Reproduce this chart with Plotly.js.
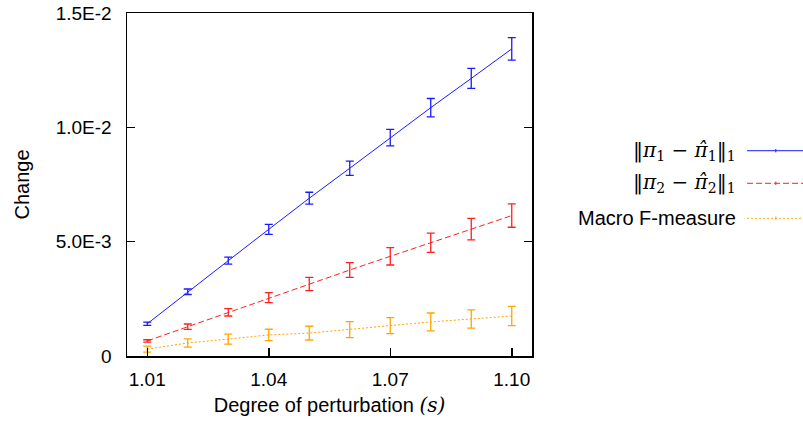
<!DOCTYPE html>
<html>
<head>
<meta charset="utf-8">
<script src="https://cdn.plot.ly/plotly-3.0.1.min.js"></script>
<style>html,body{margin:0;padding:0;background:#fff;}#chart{width:803px;height:423px;}</style>
</head>
<body>
<div id="chart"></div>
<script>
const perturbation = [1.01, 1.02, 1.03, 1.04, 1.05, 1.06, 1.07, 1.08, 1.09, 1.10];
const pi1Change = [0.00141, 0.00281, 0.00417, 0.00554, 0.00690, 0.00821, 0.00955, 0.01086, 0.01214, 0.01343];
const pi1Err = [0.00007, 0.00012, 0.00015, 0.00022, 0.00026, 0.00031, 0.00036, 0.00040, 0.00044, 0.00049];
const pi2Change = [0.00066, 0.00128, 0.00191, 0.00255, 0.00315, 0.00376, 0.00436, 0.00495, 0.00555, 0.00614];
const pi2Err = [0.00005, 0.00012, 0.00016, 0.00022, 0.00029, 0.00032, 0.00038, 0.00042, 0.00047, 0.00051];
const macroF = [0.00030, 0.00057, 0.00074, 0.00092, 0.00100, 0.00115, 0.00133, 0.00149, 0.00162, 0.00175];
const macroFErr = [0.00013, 0.00018, 0.00022, 0.00025, 0.00030, 0.00035, 0.00035, 0.00039, 0.00040, 0.00042];
const seriesNames = ['‖<i>π</i><sub>1</sub> − <i>π̂</i><sub>1</sub>‖<sub>1</sub>', '‖<i>π</i><sub>2</sub> − <i>π̂</i><sub>2</sub>‖<sub>1</sub>', 'Macro F-measure'];
const xTickVals = [1.01, 1.04, 1.07, 1.10];
const xTickText = ['1.01', '1.04', '1.07', '1.10'];
const yTickVals = [0, 0.005, 0.01, 0.015];
const yTickText = ['0', '5.0E-3', '1.0E-2', '1.5E-2'];

const colors = ['#1a1aff', '#ff2020', '#ffa500'];
const dashes = ['solid', '6px,3px', '2px,2px'];
const ys = [pi1Change, pi2Change, macroF];
const errs = [pi1Err, pi2Err, macroFErr];

const traces = ys.map((y, i) => ({
  x: perturbation, y: y, type: 'scatter', mode: 'lines',
  name: seriesNames[i], showlegend: false,
  line: {color: colors[i], width: 1, dash: dashes[i]},
  error_y: {type: 'data', array: errs[i], visible: true, color: colors[i], thickness: 1.3, width: 4}
}));

const legY = [0.5985, 0.5035, 0.4015];
const annotations = seriesNames.map((n, i) => ({
  xref: 'paper', yref: 'paper', x: 1.508, y: legY[i], xanchor: 'right', yanchor: 'middle',
  text: n, showarrow: false,
  font: i < 2 ? {family: 'DejaVu Serif', size: 20, color: '#000'} : {family: 'Liberation Sans, Arial', size: 20, color: '#000'}
}));
const shapes = [];
seriesNames.forEach((n, i) => {
  shapes.push({type: 'line', xref: 'paper', yref: 'paper', x0: 1.531, x1: 1.69, y0: legY[i], y1: legY[i],
    line: {color: colors[i], width: 1, dash: dashes[i]}});
  shapes.push({type: 'line', xref: 'paper', yref: 'paper', x0: 1.602, x1: 1.602, y0: legY[i] - 0.005, y1: legY[i] + 0.005,
    line: {color: colors[i], width: 1}});
});

const layout = {
  width: 803, height: 423,
  margin: {l: 127, r: 271, t: 13, b: 67},
  paper_bgcolor: '#fff', plot_bgcolor: '#fff',
  font: {family: 'Liberation Sans, Arial', size: 19, color: '#000'},
  showlegend: false,
  xaxis: {
    range: [1.005, 1.105], tickvals: xTickVals, ticktext: xTickText,
    ticks: 'inside', ticklen: 8, tickwidth: 1.5, tickcolor: '#000',
    showline: true, linecolor: '#000', linewidth: 1.5, mirror: true,
    showgrid: false, zeroline: false, ticklabelstandoff: 6,
    tickfont: {size: 19},
    title: {text: 'Degree of perturbation <span style="font-family:DejaVu Serif"><i>(s)</i></span>', font: {size: 20}, standoff: 8}
  },
  yaxis: {
    range: [0, 0.015], tickvals: yTickVals, ticktext: yTickText,
    ticks: 'inside', ticklen: 8, tickwidth: 1.5, tickcolor: '#000',
    showline: true, linecolor: '#000', linewidth: 1.5, mirror: 'ticks',
    showgrid: false, zeroline: false, ticklabelstandoff: 10,
    tickfont: {size: 19},
    title: {text: 'Change', font: {size: 20}, standoff: 20}
  },
  annotations: annotations,
  shapes: shapes
};

Plotly.newPlot('chart', traces, layout, {displayModeBar: false, staticPlot: true});
</script>
</body>
</html>
